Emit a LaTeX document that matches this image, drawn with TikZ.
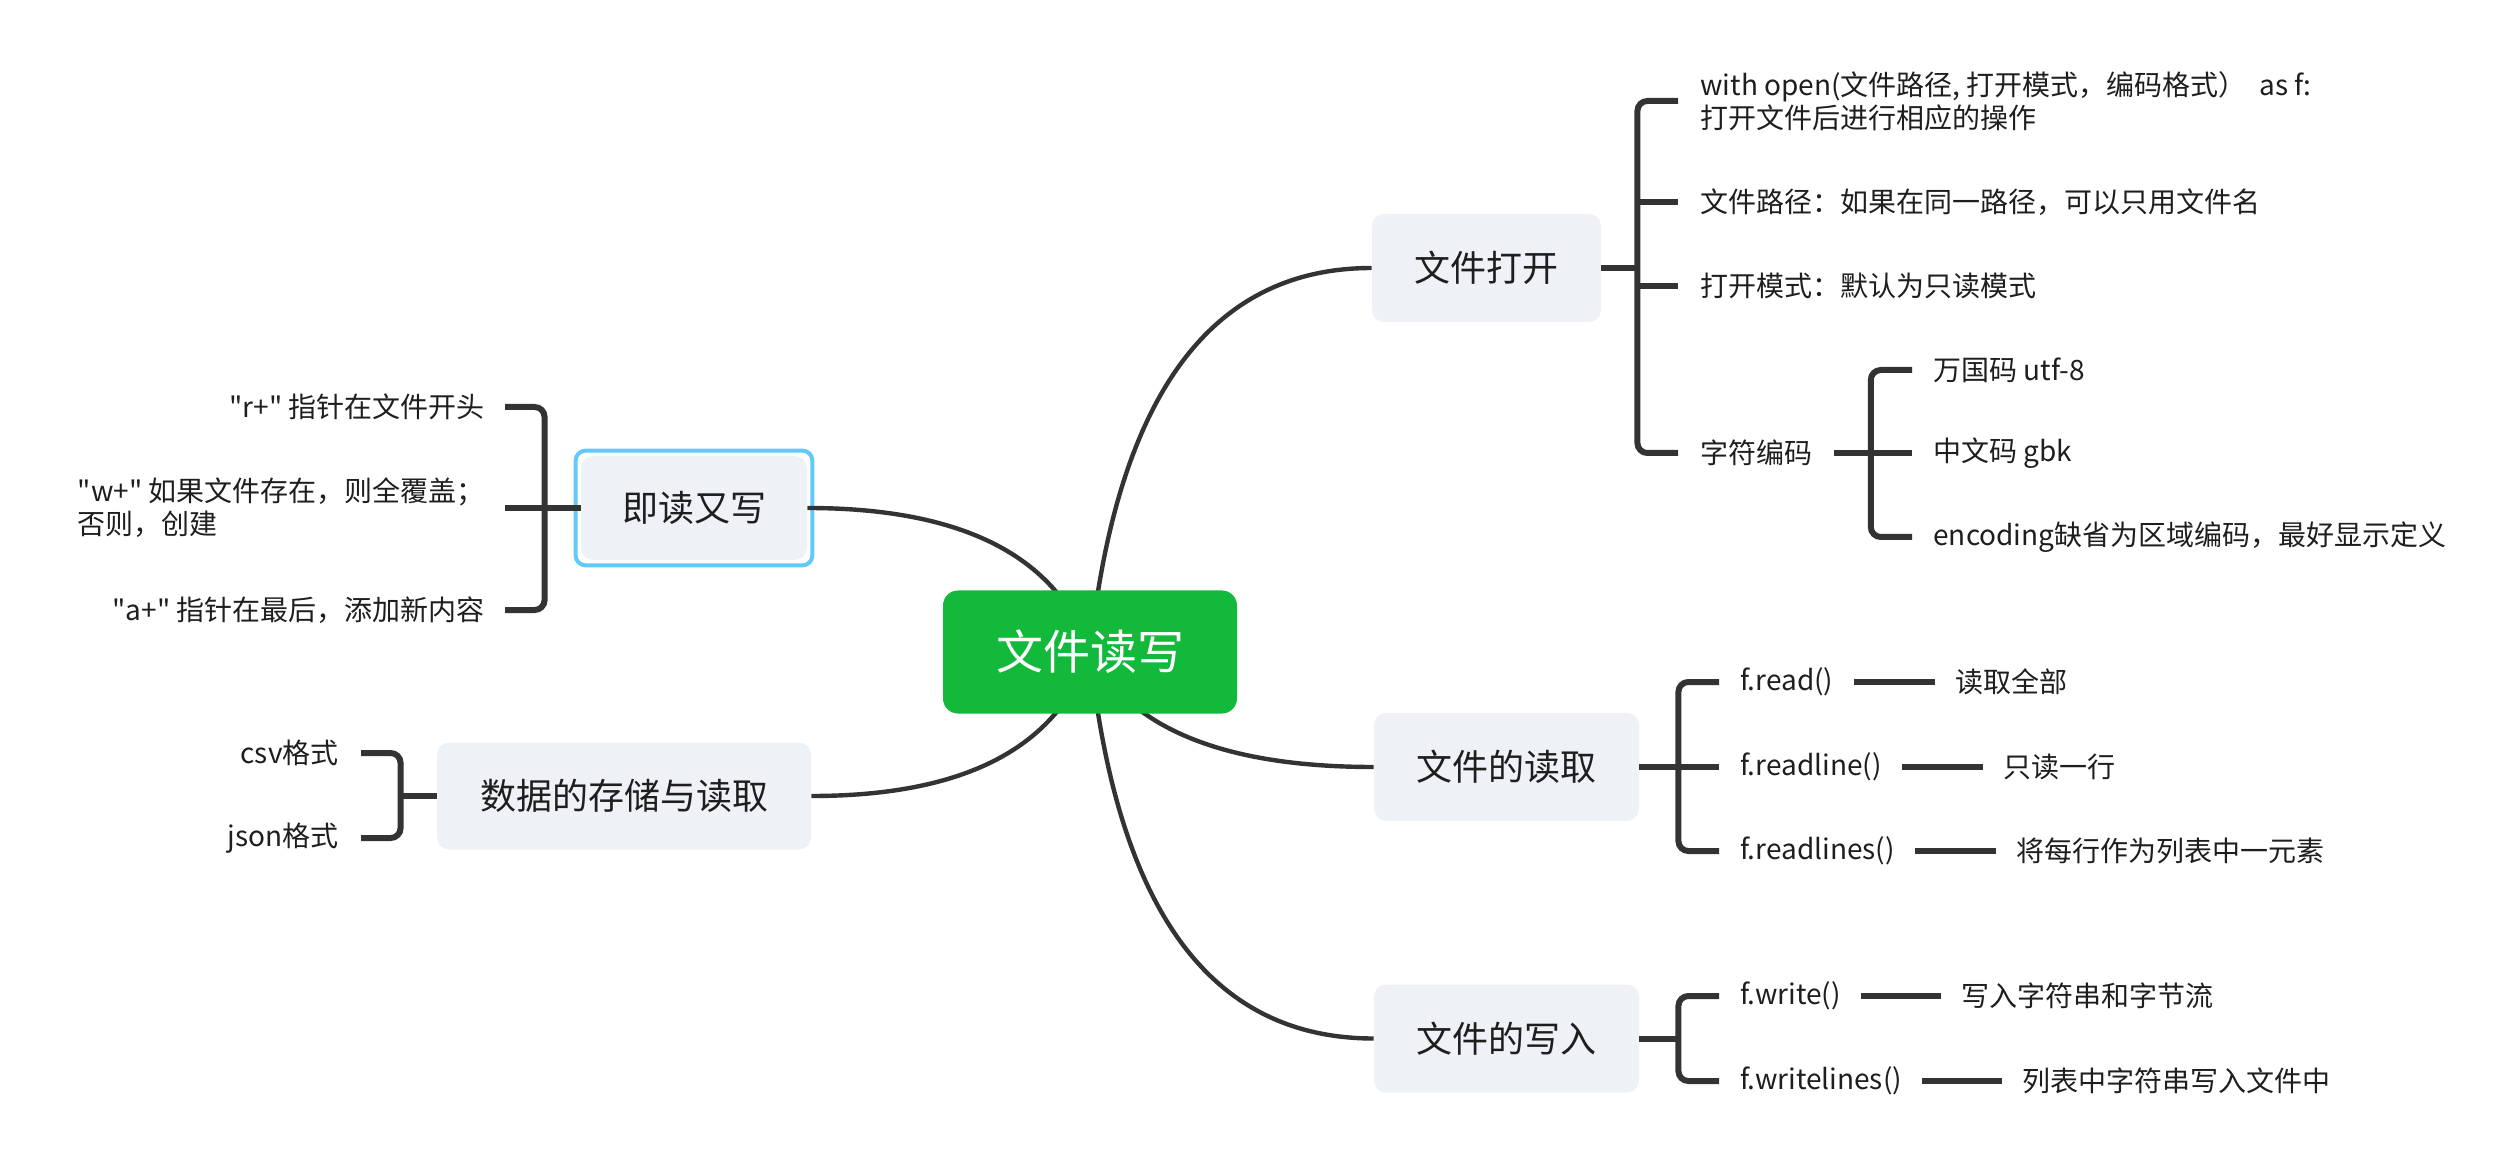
\documentclass[tikz,border=0pt]{standalone}
\usepackage{fontspec}
\setmainfont[Ligatures=TeXOff]{Noto Sans CJK SC}
\usetikzlibrary{positioning, calc, fit, backgrounds}

\definecolor{rootgreen}{HTML}{13B93A}
\definecolor{topicgrey}{HTML}{EEF1F5}
\definecolor{selblue}{HTML}{62C9F8}
\definecolor{ink}{HTML}{333333}
\definecolor{txt}{HTML}{1E1E1E}

\tikzset{
    hub/.style={rectangle, rounded corners=7.5pt, fill=rootgreen, text=white,
        font=\fontsize{23.5}{28}\selectfont, minimum width=147pt, minimum height=61.5pt, inner sep=0pt},
    topic/.style={rectangle, rounded corners=6pt, fill=topicgrey, text=txt,
        font=\fontsize{18}{22}\selectfont, minimum height=54pt, inner sep=0pt},
    leaf/.style={inner sep=0pt, text=txt, font=\fontsize{14}{16.5}\selectfont, align=left},
    selbox/.style={draw=selblue, line width=2pt, rounded corners=5pt, inner sep=2.5pt},
    brk/.style={draw=ink, line width=3pt, rounded corners=5pt},
    twig/.style={draw=ink, line width=2.2pt},
}

\begin{document}
\begin{tikzpicture}[x=0.5pt, y=-0.5pt]
    \useasboundingbox (0,0) rectangle (2518,1160);

    \node [hub] (root) at (1090,652) {文件读写};
    \node [topic, minimum width=114.5pt] (open) at (1486.5,268) {文件打开};
    \node [topic, minimum width=132.5pt] (readf) at (1506.5,767) {文件的读取};
    \node [topic, minimum width=132.5pt] (writef) at (1506.5,1038.5) {文件的写入};
    \node [topic, minimum width=113pt, minimum height=52pt] (rw) at (694,508) {即读又写};
    \node [topic, minimum width=187pt, minimum height=53.5pt] (data) at (624,796) {数据的存储与读取};

    \node [leaf, anchor=west] (o1) at (1700,101) {with open(文件路径, 打开模式，编码格式）\ \ as f:\\打开文件后进行相应的操作};
    \node [leaf, anchor=west] (o2) at (1700,202) {文件路径：如果在同一路径，可以只用文件名};
    \node [leaf, anchor=west] (o3) at (1700,286) {打开模式：默认为只读模式};
    \node [leaf, anchor=west] (o4) at (1700,453) {字符编码};
    \node [leaf, anchor=west] (e1) at (1933,370) {万国码 utf-8};
    \node [leaf, anchor=west] (e2) at (1933,453) {中文码 gbk};
    \node [leaf, anchor=west] (e3) at (1933,537) {encoding缺省为区域编码，最好显示定义};

    \node [leaf, anchor=west] (r1) at (1740,682) {f.read()};
    \node [leaf, anchor=west] (r2) at (1740,767) {f.readline()};
    \node [leaf, anchor=west] (r3) at (1740,851) {f.readlines()};
    \node [leaf, right=60.5pt of r1] (r1d) {读取全部};
    \node [leaf, right=60.5pt of r2] (r2d) {只读一行};
    \node [leaf, right=60.5pt of r3] (r3d) {将每行作为列表中一元素};

    \node [leaf, anchor=west] (w1) at (1740,996) {f.write()};
    \node [leaf, anchor=west] (w2) at (1740,1081) {f.writelines()};
    \node [leaf, right=60pt of w1] (w1d) {写入字符串和字节流};
    \node [leaf, right=60pt of w2] (w2d) {列表中字符串写入文件中};

    \node [leaf, anchor=east] (l1) at (485,407) {"r+" 指针在文件开头};
    \node [leaf, anchor=east] (l2) at (485,508) {"w+" 如果文件存在，则全覆盖；\\否则，创建};
    \node [leaf, anchor=east] (l3) at (485,610) {"a+" 指针在最后，添加新内容};
    \node [leaf, anchor=east] (d1) at (339,753) {csv格式};
    \node [leaf, anchor=east] (d2) at (339,838) {json格式};

    \draw [brk] (open.east) -- ++(36,0) coordinate (os);
    \draw [brk] ($(o1.west)+(-22,0)$) -| (os) |- ($(o4.west)+(-22,0)$);
    \draw [brk] (os |- o2.west) -- ($(o2.west)+(-22,0)$);
    \draw [brk] (os |- o3.west) -- ($(o3.west)+(-22,0)$);
    \draw [brk] ($(o4.east)+(21,0)$) -- ++(37,0) coordinate (es) -- ($(e2.west)+(-21,0)$);
    \draw [brk] ($(e1.west)+(-21,0)$) -| (es) |- ($(e3.west)+(-21,0)$);

    \draw [brk] (readf.east) -- ++(39,0) coordinate (rs) -- ($(r2.west)+(-21,0)$);
    \draw [brk] ($(r1.west)+(-21,0)$) -| (rs) |- ($(r3.west)+(-21,0)$);
    \draw [brk] ($(r1.east)+(20,0)$) -- ($(r1d.west)+(-20,0)$);
    \draw [brk] ($(r2.east)+(20,0)$) -- ($(r2d.west)+(-20,0)$);
    \draw [brk] ($(r3.east)+(20,0)$) -- ($(r3d.west)+(-20,0)$);

    \draw [brk] (writef.east) -- ++(39,0) coordinate (ws);
    \draw [brk] ($(w1.west)+(-21,0)$) -| (ws) |- ($(w2.west)+(-21,0)$);
    \draw [brk] ($(w1.east)+(20,0)$) -- ($(w1d.west)+(-20,0)$);
    \draw [brk] ($(w2.east)+(20,0)$) -- ($(w2d.west)+(-20,0)$);

    \coordinate (ls) at ($(rw.west)+(-36,0)$);
    \draw [brk] (rw.west) -- ($(l2.east)+(20,0)$);
    \draw [brk] ($(l1.east)+(20,0)$) -| (ls) |- ($(l3.east)+(20,0)$);

    \draw [brk] (data.west) -- ++(-36,0) coordinate (ds);
    \draw [brk] ($(d1.east)+(22,0)$) -| (ds) |- ($(d2.east)+(22,0)$);

    \begin{scope}[on background layer]
        \node [selbox, fit=(rw)] (rwsel) {};
        \draw [twig] (root.center) .. controls +(27,-256) and +(-161,0) .. (open.west);
        \draw [twig] (root.center) .. controls +(40,77) and +(-149,0) .. (readf.west);
        \draw [twig] (root.center) .. controls +(27,258) and +(-163,0) .. (writef.west);
        \draw [twig] (root.center) .. controls +(-33,-96) and +(155,0) .. (rw.east);
        \draw [twig] (root.center) .. controls +(-33,96) and +(153,0) .. (data.east);
    \end{scope}
\end{tikzpicture}
\end{document}
